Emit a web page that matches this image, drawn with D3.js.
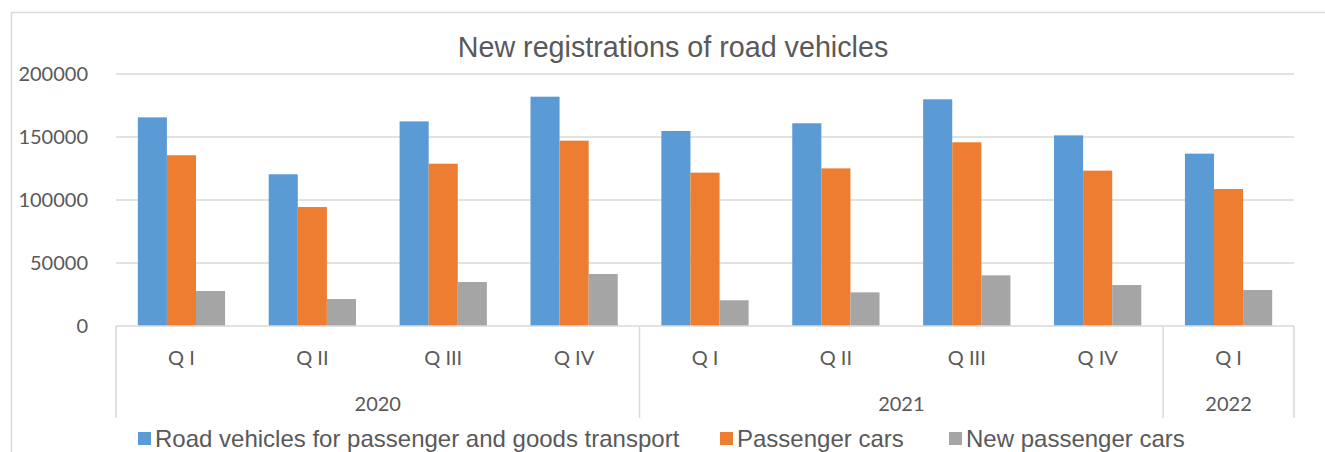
<!DOCTYPE html>
<html><head><meta charset="utf-8">
<script src="https://cdn.jsdelivr.net/npm/d3@7"></script>
<style>
html,body{margin:0;padding:0;background:#fff;}
svg{display:block;}
</style></head>
<body>
<svg id="chart" width="1325" height="452"></svg>
<script>
const quarters = ["Q I","Q II","Q III","Q IV","Q I","Q II","Q III","Q IV","Q I"];
const years = ["2020","2021","2022"];
const yearSpans = [4,4,1];
const seriesNames = ["Road vehicles for passenger and goods transport","Passenger cars","New passenger cars"];
const roadVehicles = [165600,120400,162400,182000,154800,160900,179900,151300,136800];
const passengerCars = [135500,94400,128800,147100,121700,125100,145800,123300,108700];
const newPassengerCars = [27800,21400,34900,41300,20400,26700,40200,32500,28600];
const yTicks = [0,50000,100000,150000,200000];
const colors = ["#5b9bd5","#ed7d31","#a5a5a5"];

(function(){
const series = [roadVehicles, passengerCars, newPassengerCars];
const svg = d3.select("#chart");
const pLeft = 116, pRight = 1294, pTop = 74, pBottom = 326;
const grid = "#d9d9d9", txt = "#595959";

// outer border
svg.append("path").attr("d","M11.5,452 L11.5,12.5 L1325,12.5")
  .attr("fill","none").attr("stroke",grid).attr("stroke-width",1.5);

// title
svg.append("text").attr("x",673).attr("y",57).attr("text-anchor","middle")
  .attr("font-family","Liberation Sans, Arial, sans-serif").attr("font-size",28.7)
  .attr("fill",txt).text("New registrations of road vehicles");

const y = d3.scaleLinear().domain([0,200000]).range([pBottom, pTop]);
const x = d3.scaleBand().domain(d3.range(quarters.length)).range([pLeft, pRight]).padding(0);
const step = x.bandwidth();
const barW = step/4.5;
const xs = d3.scaleBand().domain(d3.range(3)).range([barW*0.75, barW*3.75]).padding(0);

// gridlines
svg.append("g").selectAll("line").data(yTicks.filter(d=>d>0)).join("line")
  .attr("x1",pLeft).attr("x2",pRight).attr("y1",d=>y(d)).attr("y2",d=>y(d))
  .attr("stroke",grid).attr("stroke-width",1.5);

// y axis labels
const yAxis = svg.append("g").attr("transform",`translate(${pLeft},0)`)
  .call(d3.axisLeft(y).tickValues(yTicks).tickSize(0).tickPadding(28).tickFormat(d3.format("d")));
yAxis.select(".domain").remove();
yAxis.selectAll("text").attr("font-family","Lato, sans-serif").attr("font-size",20).attr("fill",txt);

// bars
series.forEach((vals,si)=>{
  svg.append("g").selectAll("rect").data(vals).join("rect")
    .attr("x",(d,i)=>x(i)+xs(si)).attr("width",xs.bandwidth())
    .attr("y",d=>y(d)).attr("height",d=>y(0)-y(d))
    .attr("fill",colors[si]);
});

// category axis line
svg.append("line").attr("x1",pLeft).attr("x2",pRight).attr("y1",y(0)).attr("y2",y(0))
  .attr("stroke",grid).attr("stroke-width",1.5);

// year separators
let acc = 0;
const bounds = [0];
yearSpans.forEach(s=>{acc+=s; bounds.push(acc);});
const bx = d => d<quarters.length ? x(d) : pRight;
svg.append("g").selectAll("line").data(bounds).join("line")
  .attr("x1",bx).attr("x2",bx)
  .attr("y1",y(0)).attr("y2",418).attr("stroke",grid).attr("stroke-width",1.5);

// quarter labels
svg.append("g").selectAll("text").data(quarters).join("text")
  .attr("x",(d,i)=>x(i)+step/2).attr("y",365).attr("text-anchor","middle")
  .attr("font-family","Lato, sans-serif").attr("font-size",20).attr("fill",txt).text(d=>d);

// year labels
svg.append("g").selectAll("text").data(years).join("text")
  .attr("x",(d,i)=>(bx(bounds[i])+bx(bounds[i+1]))/2)
  .attr("y",411).attr("text-anchor","middle")
  .attr("font-family","Lato, sans-serif").attr("font-size",20).attr("fill",txt).text(d=>d);

// legend
const legX = [138, 720, 949];
const leg = svg.append("g");
seriesNames.forEach((n,i)=>{
  leg.append("rect").attr("x",legX[i]).attr("y",432).attr("width",13).attr("height",13).attr("fill",colors[i]);
  leg.append("text").attr("x",legX[i]+17).attr("y",447)
    .attr("font-family","Liberation Sans, Arial, sans-serif").attr("font-size",24)
    .attr("fill",txt).text(n);
});
})();
</script>
</body></html>
